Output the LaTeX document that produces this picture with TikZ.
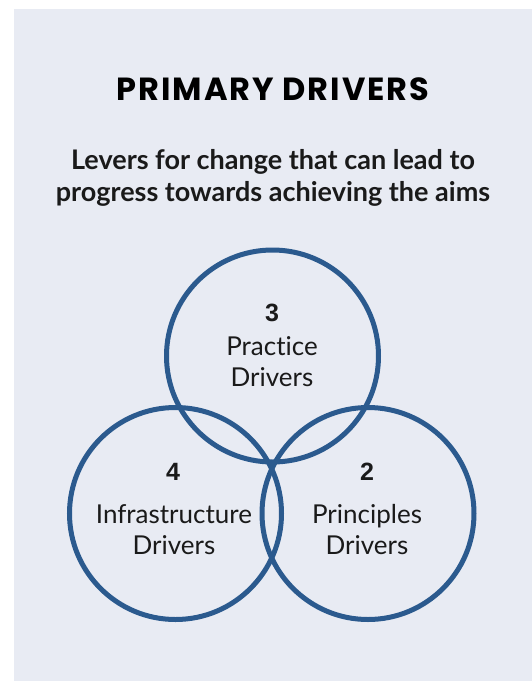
\documentclass[tikz,border=0pt]{standalone}
\usepackage{fontspec}
\setmainfont[Ligatures=NoCommon]{Lato}
\newfontfamily\titlefont[LetterSpace=6]{Poppins}
\newfontfamily\numfont{Liberation Sans}
\definecolor{panel}{HTML}{E8EBF3}
\definecolor{ringblue}{HTML}{2B5A8E}
\definecolor{txt}{HTML}{1A1A1A}
\begin{document}
\begin{tikzpicture}[x=1pt,y=-1pt,
  ring/.style={draw=ringblue,line width=5pt,circle,minimum size=212pt,inner sep=0pt},
  numlabel/.style={font=\numfont\bfseries\fontsize{25}{25}\selectfont,text=txt},
  ringtext/.style={font=\fontsize{26}{31}\selectfont,text=txt,align=center},
]
\useasboundingbox (0,0) rectangle (532,681);
\fill[white] (0,0) rectangle (532,681);
\fill[panel] (14,9) rectangle (532,681);
\node[font=\titlefont\bfseries\fontsize{32}{32}\selectfont,text=black] (title) at (273,89) {PRIMARY DRIVERS};
\node[font=\bfseries\fontsize{27}{32}\selectfont,text=txt,align=center] (sub) at (273,178) {Levers for change that can lead to\\progress towards achieving the aims};
\node[ring] (top) at (272.5,356) {};
\node[ring] (left) at (175.5,513.5) {};
\node[ring] (right) at (368,513.5) {};
\node[numlabel] (n3) at (272,313) {3};
\node[ringtext] (t3) at (272,362) {Practice\\Drivers};
\node[numlabel] (n4) at (173,472) {4};
\node[ringtext] (t4) at (174,530) {Infrastructure\\Drivers};
\node[numlabel] (n2) at (367,472) {2};
\node[ringtext] (t2) at (367,530) {Principles\\Drivers};
\end{tikzpicture}
\end{document}
